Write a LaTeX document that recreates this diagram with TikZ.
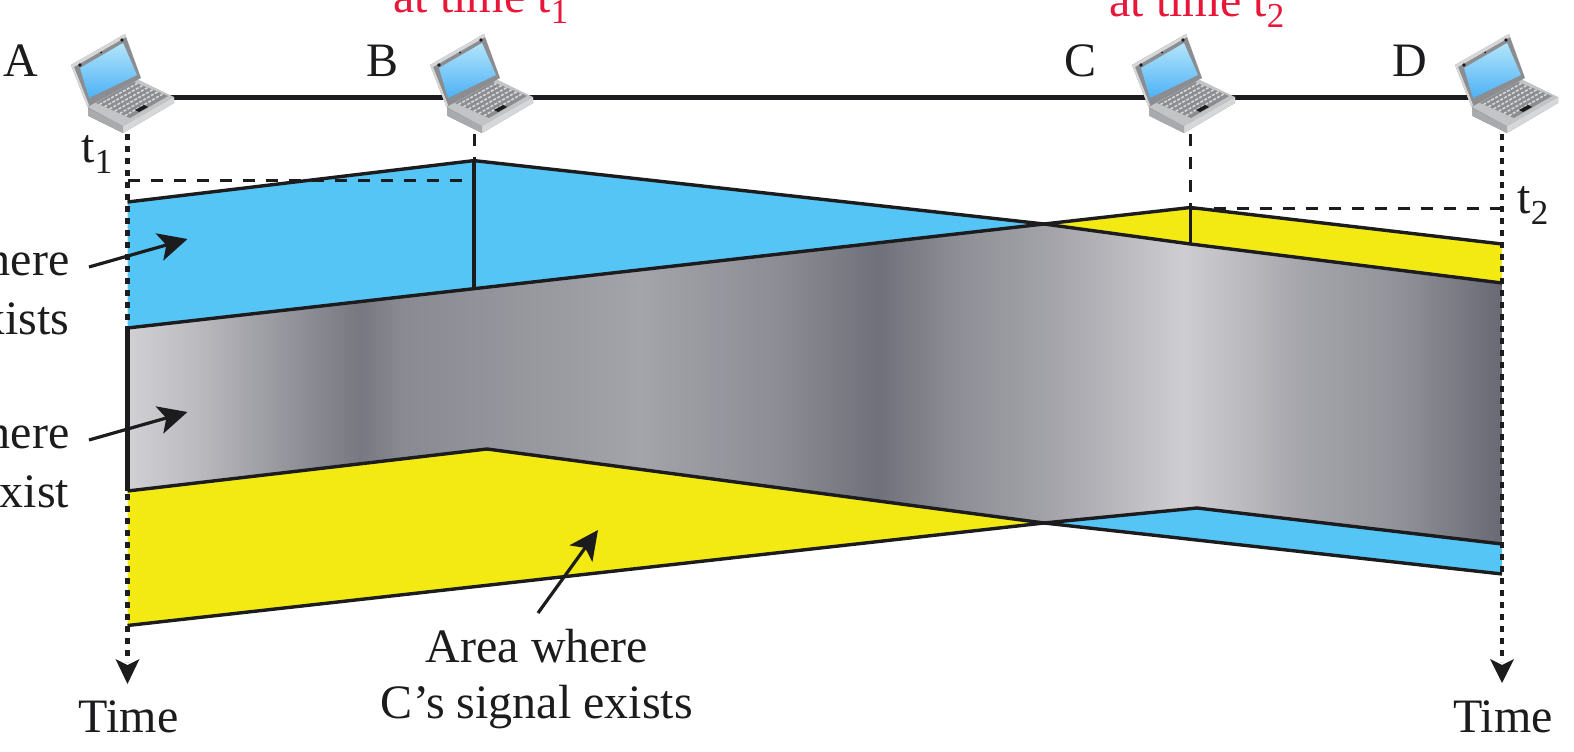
\documentclass[tikz,border=0pt]{standalone}
\usepackage{fontspec}
\setmainfont{Liberation Serif}
\usetikzlibrary{arrows.meta,calc}
\definecolor{sigblue}{HTML}{55C5F5}
\definecolor{sigyellow}{HTML}{F3EA14}
\definecolor{ink}{HTML}{1C1C1E}
\definecolor{redlab}{HTML}{E8173A}
\definecolor{lapdark}{HTML}{8C8D90}
\definecolor{lapmid}{HTML}{A9AAAD}
\definecolor{laplight}{HTML}{D6D7D9}
\definecolor{bandink}{HTML}{000012}
\pgfdeclarehorizontalshading{grayband}{100bp}{
 color(0bp)=(bandink!18);
 color(25bp)=(bandink!18);
 color(27.3bp)=(bandink!26);
 color(29.5bp)=(bandink!36);
 color(32.7bp)=(bandink!50);
 color(33.5bp)=(bandink!53);
 color(35bp)=(bandink!46);
 color(43.7bp)=(bandink!36);
 color(48.7bp)=(bandink!45);
 color(52.3bp)=(bandink!56);
 color(55.3bp)=(bandink!44);
 color(58.2bp)=(bandink!37);
 color(60.4bp)=(bandink!30);
 color(63.4bp)=(bandink!19);
 color(67.6bp)=(bandink!35);
 color(71.3bp)=(bandink!43);
 color(75bp)=(bandink!59);
 color(100bp)=(bandink!59)}
\tikzset{
 x=1pt,y=-1pt,
 outline/.style={draw=ink,line width=3.4pt,line join=miter},
 net/.style={draw=ink,line width=4.6pt},
 timeline/.style={draw=ink,line width=4.4pt,dash pattern=on 6pt off 6pt},
 guide/.style={draw=ink,line width=3pt,dash pattern=on 12pt off 11pt},
 solidtick/.style={draw=ink,line width=3.4pt},
 callout/.style={draw=ink,line width=3.2pt,-{Stealth[length=29pt,width=28pt,inset=7pt]}},
 lab/.style={anchor=base,inner sep=0pt,font=\fontsize{48}{48}\selectfont,text=ink},
 redl/.style={anchor=base,inner sep=0pt,font=\fontsize{48}{48}\selectfont,text=redlab},
 pics/laptop/.style={code={
  % base
  \fill[lapdark] (88,107) -- (88.5,116) -- (123,133) -- (174,103) -- (174,97) -- cycle;
  \fill[laplight] (123,126) -- (123,133) -- (174,103) -- (174,97) -- cycle;
  \fill[lapmid] (88,108) -- (88.5,116) -- (123,133) -- (123,126) -- cycle;
  \fill[lapmid!70!white] (87.5,107) -- (137,79) -- (174,97) -- (123,126) -- cycle;
  % keyboard
  \fill[lapdark] (96,103) -- (134,82) -- (168,96) -- (130,118) -- cycle;
  \foreach \t in {0.1,0.25,0.4,0.55,0.7,0.85} {
    \draw[laplight,line width=1.6pt,dash pattern=on 3pt off 1.5pt]
      ($(96,103)!\t!(130,118)$) -- ($(134,82)!\t!(168,96)$);
  }
  \fill[ink] (135,110) -- (144,105) -- (148,107) -- (139,112) -- cycle;
  % lid
  \fill[lapdark] (71,65) -- (125,34) -- (141,78) -- (87.5,107) -- cycle;
  \fill[laplight] (71,65) -- (125,34) -- (126,37) -- (74,67) -- (89,105) -- (87.5,107) -- cycle;
  \shade[left color=sigblue!45!white,right color=sigblue!90!blue,shading angle=0]
     (80,68) -- (123,43) -- (137,75) -- (89,98) -- cycle;
  \fill[ink] (80,65) circle (1.8pt) (122,40) circle (1.8pt) (101,52.5) circle (1pt);
 }}
}
\begin{document}
\begin{tikzpicture}
\useasboundingbox (0,0) rectangle (1574,752);
\clip (0,0) rectangle (1574,752);

% named positions
\coordinate (pA) at (127.5,97.5);
\coordinate (pB) at (474,97.5);
\coordinate (pC) at (1190.5,97.5);
\coordinate (pD) at (1502,97.5);
\coordinate (tA) at (127.5,134);
\coordinate (tB) at (474,134);
\coordinate (tC) at (1190.5,134);
\coordinate (tD) at (1502,134);
\coordinate (aA) at (127.5,684);
\coordinate (aD) at (1502,683);
\coordinate (bTop) at (474,160.6);
\coordinate (bBot) at (474,289);
\coordinate (cTop) at (1190.5,207.5);
\coordinate (cBot) at (1190.5,244);
\coordinate (gA1) at (127.5,328);
\coordinate (gA2) at (127.5,491);
\coordinate (d1s) at (127.5,180);
\coordinate (d1e) at (474,180);
\coordinate (d2s) at (1190.5,208.5);
\coordinate (d2e) at (1502,208.5);

% coloured regions
\path[fill=sigblue] (127.5,202) -- (bTop) -- (1044,224) -- (gA1) -- cycle;
\path[fill=sigyellow] (1044,224) -- (cTop) -- (1502,244) -- (1502,283) -- (cBot) -- cycle;
\path[fill=sigyellow] (gA2) -- (487,449) -- (1044,523) -- (127.5,625.5) -- cycle;
\path[fill=sigblue] (1044,523) -- (1197,508) -- (1502,544) -- (1502,574) -- cycle;
\begin{scope}
\clip (gA1) -- (1044,224) -- (cBot) -- (1502,283) -- (1502,544) -- (1197,508) -- (1044,523) -- (487,449) -- (gA2) -- cycle;
\shade[shading=grayband] (127.5,150) rectangle (1502,600);
\end{scope}

% guides
\draw[guide] (tB) -- (bTop);
\draw[guide] (tC) -- (cTop);
\draw[guide] (d1s) -- (d1e);
\draw[guide] (d2s) -- (d2e);

% outlines
\draw[outline] (127.5,202) -- (bTop) -- (1044,224);
\draw[outline] (gA1) -- (1044,224) -- (cBot) -- (1502,283);
\draw[outline] (1044,224) -- (cTop) -- (1502,244);
\draw[outline] (gA2) -- (487,449) -- (1044,523) -- (1197,508) -- (1502,544);
\draw[outline] (127.5,625.5) -- (1044,523) -- (1502,574);
\draw[solidtick] (bTop) -- (bBot);
\draw[solidtick] (cTop) -- (cBot);
\draw[draw=ink,line width=4.4pt] (gA1) -- (gA2);

% time lines
\draw[timeline] (tA) -- (127.5,662);
\draw[timeline] (tD) -- (1502,662);
\fill[ink] (aA) -- (115.5,659) -- (127.5,665) -- (139.5,659) -- cycle;
\fill[ink] (aD) -- (1490,659) -- (1502,665) -- (1514,659) -- cycle;

% network line and laptops
\draw[net] (pA) -- (pB) -- (pC) -- (pD);
\pic (lapA) at (0,0) {laptop};
\pic (lapB) at (359,0) {laptop};
\pic (lapC) at (1061,0) {laptop};
\pic (lapD) at (1384,0) {laptop};

% callouts
\coordinate (c1s) at (89,267); \coordinate (c1e) at (187.5,239);
\coordinate (c2s) at (89,440); \coordinate (c2e) at (187.5,412);
\coordinate (c3s) at (538,613); \coordinate (c3e) at (598,530);
\draw[callout] (c1s) -- (c1e);
\draw[callout] (c2s) -- (c2e);
\draw[callout] (c3s) -- (c3e);

% labels
\node[lab] (la) at (21,77) {A};
\node[lab] (lb) at (383,77) {B};
\node[lab] (lc) at (1080,77) {C};
\node[lab] (ld) at (1410,77) {D};
\node[lab] (t1) at (97,162) {t\raisebox{-11pt}{\fontsize{35}{35}\selectfont 1}};
\node[lab] (t2) at (1533,213) {t\raisebox{-11pt}{\fontsize{35}{35}\selectfont 2}};
\node[redl] (rt1) at (481,13) {at time t\raisebox{-11pt}{\fontsize{35}{35}\selectfont 1}};
\node[redl] (rt2) at (1197,17) {at time t\raisebox{-11pt}{\fontsize{35}{35}\selectfont 2}};
\node[lab,anchor=base east] (h1) at (69.5,275) {here};
\node[lab,anchor=base east] (x1) at (69.5,334) {xists};
\node[lab,anchor=base east] (h2) at (69.5,448) {here};
\node[lab,anchor=base east] (x2) at (69.5,507) {xist};
\node[lab] (ar) at (537,662) {Area where};
\node[lab] (cs) at (537,718) {C’s signal exists};
\node[lab] (ta) at (128.5,732) {Time};
\node[lab] (td) at (1503,732) {Time};
\end{tikzpicture}
\end{document}
